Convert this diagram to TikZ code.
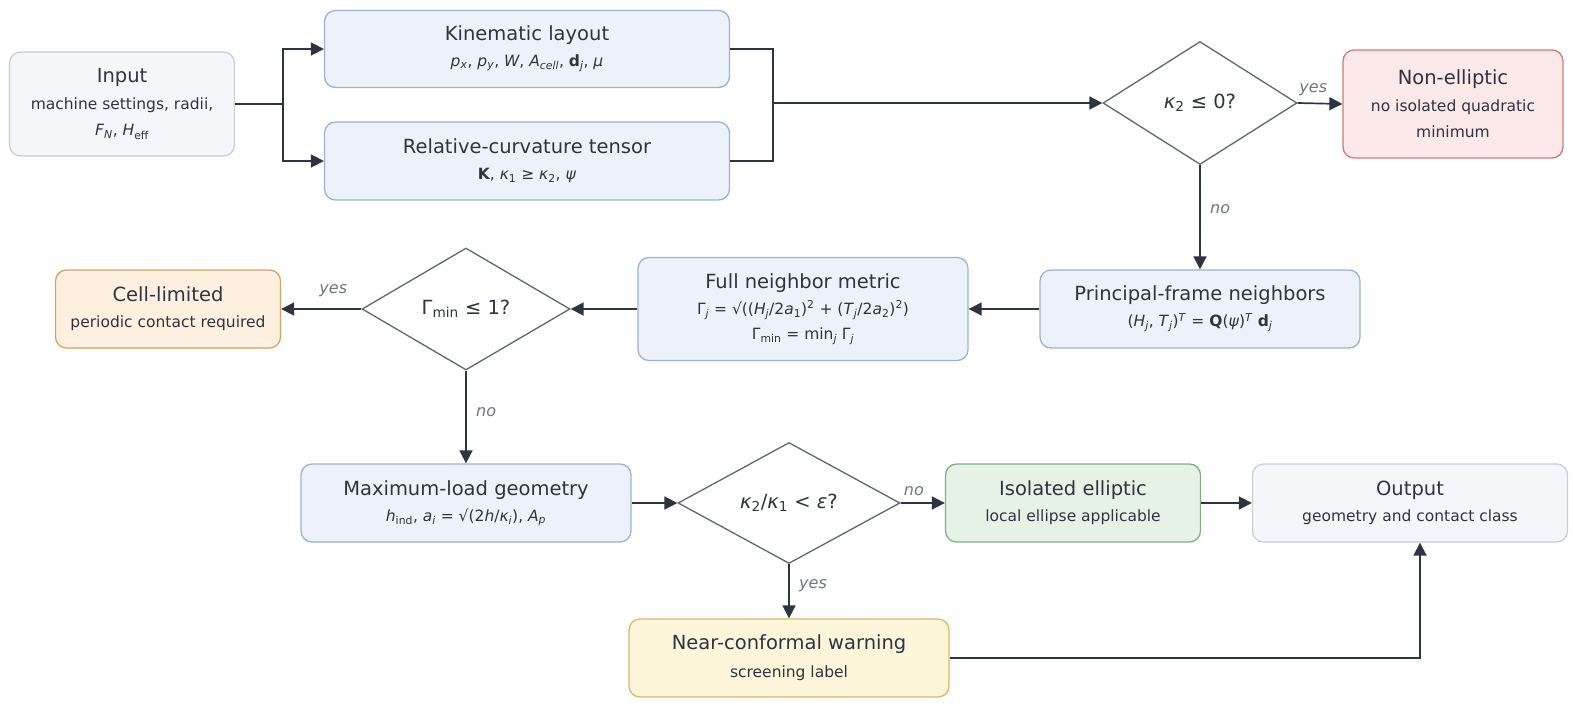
\documentclass[tikz,border=0pt]{standalone}
\usepackage{fontspec}
\setmainfont{DejaVu Sans}
\usepackage{xcolor}
\usetikzlibrary{arrows.meta,positioning,shapes.geometric}

\definecolor{boxblue}{HTML}{EDF2FA}
\definecolor{lineblue}{HTML}{9DB1D0}
\definecolor{boxgray}{HTML}{F5F6FA}
\definecolor{linegray}{HTML}{C9CED8}
\definecolor{boxred}{HTML}{FBE8E8}
\definecolor{linered}{HTML}{D07B7B}
\definecolor{boxorange}{HTML}{FDF0DF}
\definecolor{lineorange}{HTML}{D9A25E}
\definecolor{boxyellow}{HTML}{FCF5DA}
\definecolor{lineyellow}{HTML}{D6BC62}
\definecolor{boxgreen}{HTML}{E7F2E6}
\definecolor{linegreen}{HTML}{80AF82}
\definecolor{decline}{HTML}{5E6674}
\definecolor{arrowc}{HTML}{2E3440}
\definecolor{textc}{HTML}{2E3440}
\definecolor{notec}{HTML}{6E7580}

\newcommand{\ttl}[1]{{\fontsize{19.5}{24}\selectfont #1}}
\newcommand{\sbt}[1]{{\fontsize{15.5}{19}\selectfont #1}}
\newcommand{\mi}[1]{\textit{#1}}
\newcommand{\subs}[1]{\textsubscript{#1}}
\newcommand{\supr}[1]{\textsuperscript{#1}}

\begin{document}
\begin{tikzpicture}[x=1pt,y=-1pt,
  box/.style={rectangle,rounded corners=11pt,draw,line width=1.3pt,align=center,
    text=textc,inner sep=0pt,minimum height=78pt,font=\fontsize{15.5}{26}\selectfont},
  bluebox/.style={box,fill=boxblue,draw=lineblue},
  graybox/.style={box,fill=boxgray,draw=linegray},
  decision/.style={diamond,draw=decline,fill=white,line width=1.3pt,inner sep=0pt,
    text=textc,align=center},
  arr/.style={-{Triangle[length=13pt,width=13pt]},line width=1.7pt,draw=arrowc},
  line/.style={line width=1.7pt,draw=arrowc},
  note/.style={text=notec,font=\fontsize{16}{18}\selectfont\itshape}]
\useasboundingbox (0,0) rectangle (1573,709);

% top row
\node[graybox,minimum width=225pt,minimum height=104pt] (input) at (122,104)
  {\ttl{Input}\\[1pt]\sbt{machine settings, radii,}\\\sbt{\mi{F}\subs{\mi{N}}, \mi{H}\subs{eff}}};
\node[bluebox,minimum width=405pt,minimum height=77pt] (kin) at (527,49)
  {\ttl{Kinematic layout}\\\sbt{\mi{p}\subs{\mi{x}}, \mi{p}\subs{\mi{y}}, \mi{W}, \mi{A}\subs{\mi{cell}}, \textbf{d}\subs{\mi{j}}, \mi{μ}}};
\node[bluebox,minimum width=405pt,minimum height=78pt] (rel) at (527,161)
  {\ttl{Relative-curvature tensor}\\\sbt{\textbf{K}, \mi{κ}\subs{1} ≥ \mi{κ}\subs{2}, \mi{ψ}}};
\node[decision,minimum width=194pt,minimum height=123pt] (dk) at (1200,103)
  {\ttl{\mi{κ}\subs{2} ≤ 0?}};
\node[box,fill=boxred,draw=linered,minimum width=220pt,minimum height=108pt] (nonell) at (1453,104)
  {\ttl{Non-elliptic}\\[1pt]\sbt{no isolated quadratic}\\\sbt{minimum}};

% middle row
\node[bluebox,minimum width=320pt] (princ) at (1200,309)
  {\ttl{Principal-frame neighbors}\\\sbt{(\mi{H}\subs{\mi{j}}, \mi{T}\subs{\mi{j}})\supr{\mi{T}} = \textbf{Q}(\mi{ψ})\supr{\mi{T}} \textbf{d}\subs{\mi{j}}}};
\node[bluebox,minimum width=330pt,minimum height=103pt] (metric) at (803,309)
  {\ttl{Full neighbor metric}\\\sbt{Γ\subs{\mi{j}} = √((\mi{H}\subs{\mi{j}}/2\mi{a}\subs{1})\supr{2} + (\mi{T}\subs{\mi{j}}/2\mi{a}\subs{2})\supr{2})}\\[-1pt]\sbt{Γ\subs{min} = min\subs{\mi{j}} Γ\subs{\mi{j}}}};
\node[decision,minimum width=208pt,minimum height=122pt] (dg) at (466,309)
  {\ttl{Γ\subs{min} ≤ 1?}};
\node[box,fill=boxorange,draw=lineorange,minimum width=225pt] (cell) at (168,309)
  {\ttl{Cell-limited}\\\sbt{periodic contact required}};

% bottom rows
\node[bluebox,minimum width=330pt] (maxload) at (466,503)
  {\ttl{Maximum-load geometry}\\\sbt{\mi{h}\subs{ind}, \mi{a}\subs{\mi{i}} = √(2\mi{h}/\mi{κ}\subs{\mi{i}}), \mi{A}\subs{\mi{p}}}};
\node[decision,minimum width=222pt,minimum height=121pt] (dr) at (789,503)
  {\ttl{\mi{κ}\subs{2}/\mi{κ}\subs{1} < \mi{ε}?}};
\node[box,fill=boxgreen,draw=linegreen,minimum width=255pt] (iso) at (1073,503)
  {\ttl{Isolated elliptic}\\\sbt{local ellipse applicable}};
\node[graybox,minimum width=315pt] (out) at (1410,503)
  {\ttl{Output}\\\sbt{geometry and contact class}};
\node[box,fill=boxyellow,draw=lineyellow,minimum width=320pt] (near) at (789,658)
  {\ttl{Near-conformal warning}\\[2pt]\sbt{screening label}};

% connectors
\coordinate (split) at (283,104);
\coordinate (join) at (773,103);
\draw[line] (input.east) -- (split);
\draw[arr] (split) |- (kin.west);
\draw[arr] (split) |- (rel.west);
\draw[line] (kin.east) -| (join);
\draw[line] (rel.east) -| (join);
\draw[arr] (join) -- (dk.west);
\draw[arr] (dk.east) -- node[note,above=3pt,pos=0.35] {yes} (nonell.west);
\draw[arr] (dk.south) -- node[note,right=6pt,pos=0.42] {no} (princ.north);
\draw[arr] (princ.west) -- (metric.east);
\draw[arr] (metric.west) -- (dg.east);
\draw[arr] (dg.west) -- node[note,above=8pt,pos=0.35] {yes} (cell.east);
\draw[arr] (dg.south) -- node[note,right=6pt,pos=0.45] {no} (maxload.north);
\draw[arr] (maxload.east) -- (dr.west);
\draw[arr] (dr.east) -- node[note,above=3pt,pos=0.3] {no} (iso.west);
\draw[arr] (dr.south) -- node[note,right=6pt,pos=0.4] {yes} (near.north);
\draw[arr] (iso.east) -- (out.west);
\draw[arr] (near.east) -| ([xshift=10pt]out.south);
\end{tikzpicture}
\end{document}
